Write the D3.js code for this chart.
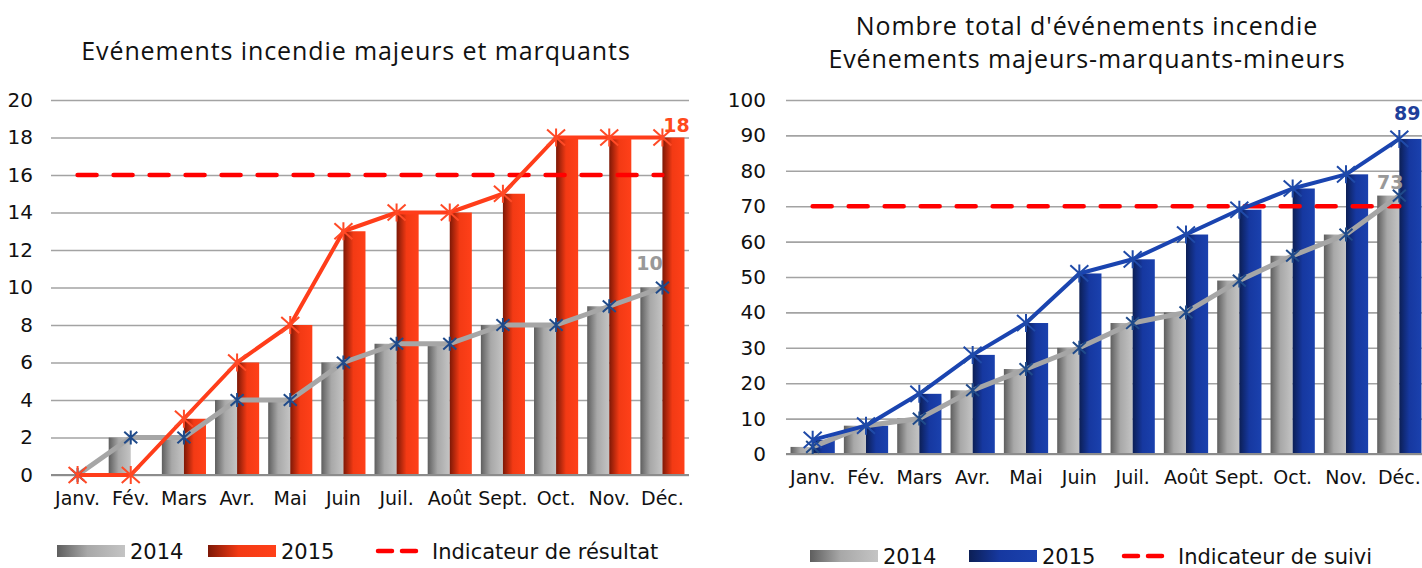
<!DOCTYPE html>
<html><head><meta charset="utf-8">
<script src="https://cdn.jsdelivr.net/npm/d3@7"></script>
<style>
body{margin:0;background:#fff;}
svg{display:block;font-family:"DejaVu Sans",sans-serif;}
</style></head>
<body><svg id="c" width="1422" height="568"></svg>
<script>
const months = ["Janv.","Fév.","Mars","Avr.","Mai","Juin","Juil.","Août","Sept.","Oct.","Nov.","Déc."];
const leftTitle = ["Evénements incendie majeurs et marquants"];
const left2014 = [0,2,2,4,4,6,7,7,8,8,9,10];
const left2015 = [0,0,3,6,8,13,14,14,15,18,18,18];
const leftTarget = 16;
const leftTicks = [0,2,4,6,8,10,12,14,16,18,20];
const leftLegend = ["2014","2015","Indicateur de résultat"];

const rightTitle = ["Nombre total d'événements incendie","Evénements majeurs-marquants-mineurs"];
const right2014 = [2,8,10,18,24,30,37,40,49,56,62,73];
const right2015 = [4,8,17,28,37,51,55,62,69,75,79,89];
const rightTarget = 70;
const rightTicks = [0,10,20,30,40,50,60,70,80,90,100];
const rightLegend = ["2014","2015","Indicateur de suivi"];

const FONT = '"DejaVu Sans",sans-serif';
const TFONT = '"Open Sans","DejaVu Sans",sans-serif';
const svg = d3.select("#c");
const defs = svg.append("defs");
function grad(id, stops){
  const g = defs.append("linearGradient").attr("id",id).attr("x1","0").attr("x2","1").attr("y1","0").attr("y2","0");
  stops.forEach(s=>g.append("stop").attr("offset",s[0]).attr("stop-color",s[1]));
}
grad("gGray",[[0,"#5e5e5e"],[0.45,"#a8a8a8"],[1,"#c4c4c4"]]);
grad("gRed",[[0,"#7d1806"],[0.45,"#f33a14"],[1,"#ff4019"]]);
grad("gBlue",[[0,"#0c1f55"],[0.45,"#1638a0"],[1,"#1a41ae"]]);

function asterisk(r, a){
  return `M0,${-r}L0,${r}M${-a},${-a*0.9}L${a},${a*0.9}M${-a},${a*0.9}L${a},${-a*0.9}`;
}

function chart(o){
  const g = svg.append("g");
  const x = d3.scaleBand().domain(months).range([o.x0,o.x1]).paddingInner(0.17).paddingOuter(0.085);
  const xs = d3.scaleBand().domain(["a","b"]).range([0,x.bandwidth()]);
  const y = d3.scaleLinear().domain([0,o.max]).range([o.y0,o.y1]);
  const cx = m => x(m)+x.bandwidth()/2;

  const ya = d3.axisLeft(y).tickValues(o.ticks).tickSize(-(o.x1-o.x0)).tickPadding(o.tp);
  const ag = g.append("g").attr("transform",`translate(${o.x0},0)`).call(ya)
    .attr("font-family",FONT).attr("font-size",20);
  ag.select(".domain").remove();
  ag.selectAll(".tick line").attr("stroke","#a3a3a3").attr("stroke-width",1.6);
  ag.selectAll(".tick text").attr("fill","#111");

  const bg = g.append("g");
  months.forEach((m,i)=>{
    bg.append("rect").attr("x",x(m)+xs("a")).attr("width",xs.bandwidth()).attr("y",y(o.a[i])).attr("height",y(0)-y(o.a[i])).attr("fill","url(#gGray)");
    bg.append("rect").attr("x",x(m)+xs("b")).attr("width",xs.bandwidth()).attr("y",y(o.b[i])).attr("height",y(0)-y(o.b[i])).attr("fill",o.fill);
  });
  g.append("line").attr("x1",o.x0).attr("x2",o.x1).attr("y1",y(0)).attr("y2",y(0)).attr("stroke","#8c8c8c").attr("stroke-width",2.2);

  const xa = d3.axisBottom(x).tickSize(0).tickPadding(o.xp);
  const xg = g.append("g").attr("transform",`translate(0,${y(0)})`).call(xa)
    .attr("font-family",FONT).attr("font-size",19);
  xg.select(".domain").remove();
  xg.selectAll(".tick text").attr("fill","#111");

  g.append("line").attr("x1",cx(months[0])).attr("x2",cx(months[11])).attr("y1",y(o.target)).attr("y2",y(o.target))
    .attr("stroke","#ff0000").attr("stroke-width",4.5).attr("stroke-dasharray","19,17").attr("stroke-linecap","round");

  const line = d3.line().x((d,i)=>cx(months[i])).y(d=>y(d));
  g.append("path").datum(o.a).attr("d",line).attr("fill","none").attr("stroke","#a6a6a6").attr("stroke-width",5).attr("stroke-linejoin","round");
  g.append("path").datum(o.b).attr("d",line).attr("fill","none").attr("stroke",o.lineColor).attr("stroke-width",4).attr("stroke-linejoin","round");
  o.a.forEach((v,i)=>g.append("path").attr("d",asterisk(7,6.5)).attr("transform",`translate(${cx(months[i])},${y(v)})`).attr("fill","none").attr("stroke","#1f4a8a").attr("stroke-width",2));
  o.b.forEach((v,i)=>g.append("path").attr("d",asterisk(9,9)).attr("transform",`translate(${cx(months[i])},${y(v)})`).attr("fill","none").attr("stroke",o.markColor).attr("stroke-width",2));

  const last = months[11];
  g.append("text").attr("x",cx(last)+o.lb[0]).attr("y",y(o.b[11])+o.lb[1]).attr("text-anchor","middle").attr("font-size",19).attr("font-weight","bold").attr("fill",o.labelColor).text(o.b[11]);
  g.append("text").attr("x",cx(last)+o.la[0]).attr("y",y(o.a[11])+o.la[1]).attr("text-anchor","middle").attr("font-size",19).attr("font-weight","bold").attr("fill","#999").text(o.a[11]);

  o.title.forEach((t,i)=>g.append("text").attr("x",o.tx).attr("y",o.ty+i*33).attr("text-anchor","middle").attr("font-family",TFONT).attr("font-size",o.ts).attr("letter-spacing","0.9px").attr("fill","#111").text(t));

  const L = o.leg, ly = o.ly;
  g.append("rect").attr("x",L[0]).attr("y",ly-6).attr("width",68).attr("height",12).attr("fill","url(#gGray)");
  g.append("text").attr("x",L[0]+73).attr("y",ly+8).attr("font-size",21).attr("fill","#111").text(o.legend[0]);
  g.append("rect").attr("x",L[1]).attr("y",ly-6).attr("width",68).attr("height",12).attr("fill",o.fill);
  g.append("text").attr("x",L[1]+73).attr("y",ly+8).attr("font-size",21).attr("fill","#111").text(o.legend[1]);
  g.append("line").attr("x1",L[2]+2).attr("x2",L[2]+40).attr("y1",ly).attr("y2",ly).attr("stroke","#ff0000").attr("stroke-width",4.5).attr("stroke-dasharray","14,10").attr("stroke-linecap","round");
  g.append("text").attr("x",L[2]+56).attr("y",ly+8).attr("font-size",21).attr("fill","#111").text(o.legend[2]);
}

chart({x0:51,x1:689,y0:475,y1:100,max:20,ticks:leftTicks,tp:18,xp:17,a:left2014,b:left2015,target:leftTarget,
  fill:"url(#gRed)",lineColor:"#ff3d1a",markColor:"#ff4a26",labelColor:"#ff4a1c",lb:[14,-6],la:[-13,-18],
  title:leftTitle,tx:356,ty:60,ts:25,legend:leftLegend,leg:[57,208,376],ly:551});
chart({x0:786,x1:1426,y0:454,y1:100,max:100,ticks:rightTicks,tp:20,xp:17,a:right2014,b:right2015,target:rightTarget,
  fill:"url(#gBlue)",lineColor:"#1a44b0",markColor:"#1f4aa8",labelColor:"#1f3f9a",lb:[8,-19],la:[-9,-7],
  title:rightTitle,tx:1087,ty:35,ts:25,legend:rightLegend,leg:[810,969,1122],ly:556});
</script></body></html>
